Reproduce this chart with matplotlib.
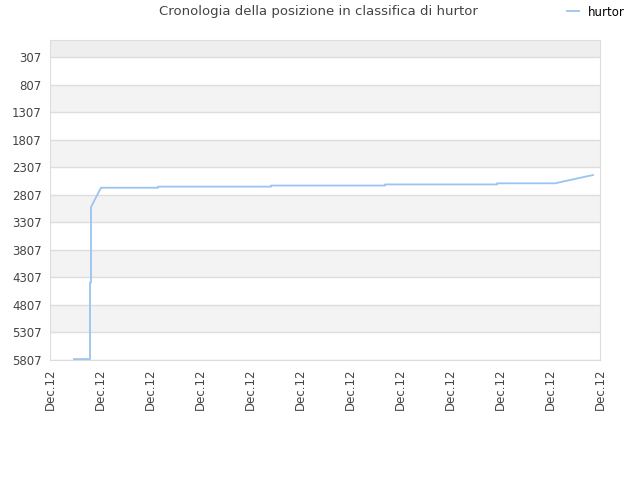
import numpy as np
import matplotlib
matplotlib.use('Agg')
import matplotlib.pyplot as plt

# position index along x (one tick per label), rank value
xs = [0.48, 0.80, 0.80, 0.82, 0.82, 1.02, 2.16, 2.16, 4.42, 4.42, 6.70, 6.70,
      8.94, 8.94, 10.10, 10.30, 10.50, 10.70, 10.86]
ranks = [5790, 5790, 4400, 4400, 3030, 2680, 2680, 2660, 2660, 2640, 2640, 2620,
         2620, 2600, 2600, 2560, 2520, 2480, 2450]
yticks = [307, 807, 1307, 1807, 2307, 2807, 3307, 3807, 4307, 4807, 5307, 5807]
xlabels = ['Dec.12'] * 12

fig = plt.figure(figsize=(6.4, 4.8), dpi=100)
ax = fig.add_axes([50 / 640, 1 - 360 / 480, 550 / 640, 320 / 480])

ymin, ymax = -2, 5807
# alternating bands
ax.axhspan(ymin, 307, color='#eeeeee', zorder=0, lw=0)
for i in range(len(yticks) - 1):
    if i % 2 == 1:
        ax.axhspan(yticks[i], yticks[i + 1], color='#f3f3f3', zorder=0, lw=0)
for t in yticks:
    ax.axhline(t, color='#dddddd', lw=1, zorder=1)

ax.plot(xs, ranks, color='#99c5f0', lw=1.3, label='hurtor', zorder=3)

ax.set_ylim(ymax, ymin)
ax.set_xlim(0, 11)
ax.set_yticks(yticks)
ax.set_yticklabels([str(t) for t in yticks])
ax.set_xticks(range(12))
ax.set_xticklabels(xlabels, rotation=90)
ax.tick_params(length=0, labelsize=8.5, colors='#444444', pad=6)
for s in ax.spines.values():
    s.set_color('#dddddd')

fig.suptitle('Cronologia della posizione in classifica di hurtor', x=318 / 640, y=1 - 12 / 480,
             va='center', fontsize=9.5, color='#444444')
fig.legend(loc='center', bbox_to_anchor=(596 / 640, 1 - 12 / 480), frameon=False,
           fontsize=8.5, handlelength=1.0, handletextpad=0.8)

fig.savefig('out.png', dpi=100)
